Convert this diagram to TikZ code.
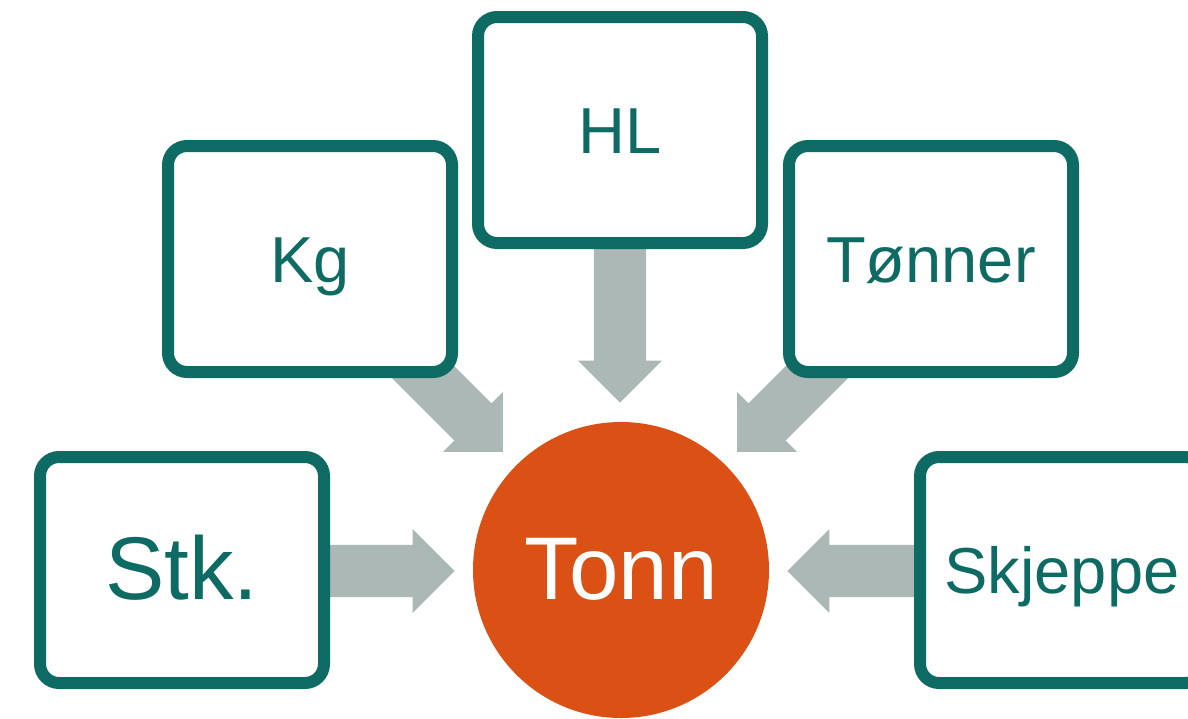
\documentclass[tikz,border=0pt]{standalone}
\usepackage{fontspec}
\setmainfont{Liberation Sans}
\usetikzlibrary{shapes.arrows}
\definecolor{boxteal}{HTML}{0E6B63}
\definecolor{arrowgrey}{HTML}{ABB8B6}
\definecolor{tonnorange}{HTML}{DA5015}
\begin{document}
\begin{tikzpicture}[x=1pt,y=-1pt,
  unitbox/.style={draw=boxteal, line width=12pt, fill=white, rounded corners=19pt,
    minimum width=284pt, minimum height=226pt, inner sep=0pt, text=boxteal,
    font=\fontsize{65}{78}\selectfont, text height=47pt, text depth=0pt},
  bigtext/.style={font=\fontsize{89}{100}\selectfont, text height=64pt, text depth=6pt},
  flow/.style={single arrow, fill=arrowgrey, draw=none, single arrow head extend=16pt,
    single arrow tip angle=90, inner xsep=0pt, inner ysep=26pt, text height=0pt, text depth=0pt,
    anchor=tip},
]
\useasboundingbox (0,0) rectangle (1188,718);
% arrows (behind boxes)
\node[flow, minimum height=130pt, rotate=0] (aStk) at (455,571) {};
\node[flow, minimum height=130pt, rotate=180] (aSkj) at (787,571) {};
\node[flow, minimum height=162pt, rotate=-90] (aHL) at (620,403) {};
\node[flow, minimum height=141pt, rotate=-45] (aKg) at (503,452) {};
\node[flow, minimum height=141pt, rotate=-135] (aTon) at (737,452) {};
% boxes
\node[unitbox] (hl) at (620,130) {HL};
\node[unitbox] (kg) at (310,259) {Kg};
\node[unitbox] (tonner) at (931,259) {Tønner};
\node[unitbox, bigtext] (stk) at (182,570) {Stk.};
\node[unitbox] (skj) at (1062,570) {Skjeppe};
% centre
\node[circle, fill=tonnorange, minimum size=296pt, inner sep=0pt, text=white, bigtext] (tonn) at (621,570) {Tonn};
\end{tikzpicture}
\end{document}
